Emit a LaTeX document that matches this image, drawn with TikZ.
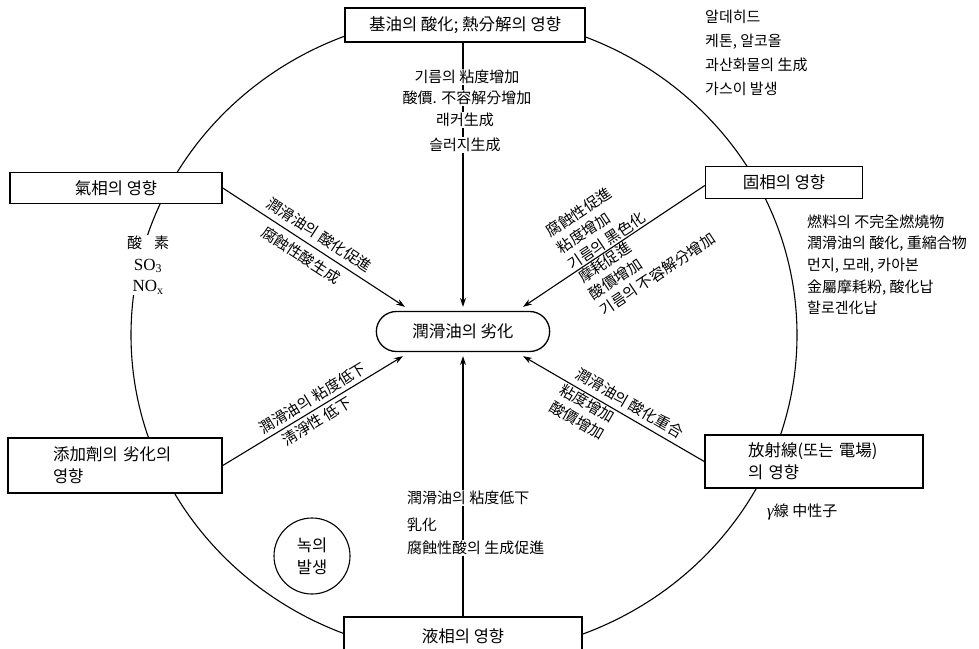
\documentclass[tikz,border=0pt]{standalone}
\usepackage{fontspec}
\setmainfont{Noto Sans CJK KR}
\newfontfamily\serifL{Liberation Serif}
\usetikzlibrary{shapes.misc,arrows.meta,calc}
\newcommand\lblfont{\fontsize{15}{19}\selectfont}
\newcommand\blkfont{\fontsize{15}{19.5}\selectfont}
\newcommand\bxfont{\fontsize{16.5}{22}\selectfont}
\begin{document}
\begin{tikzpicture}[x=1pt,y=-1pt,
  box/.style={draw, line width=1.5pt, fill=white, inner sep=0pt, font=\bxfont},
  lbl/.style={font=\lblfont, inner sep=1pt},
  blk/.style={font=\blkfont, inner sep=1pt, sloped, align=left},
  row/.style={lbl, fill=white},
  arr/.style={line width=1.1pt, -{Stealth[length=9pt,width=6pt]}},
  ring/.style={line width=1.1pt}]
\useasboundingbox (0,0) rectangle (979,648);
\fill[white] (0,0) rectangle (979,648);
% outer ring
\draw[ring] (464,335) ellipse [x radius=333, y radius=320];

% boxes
\node[box, minimum width=240, minimum height=34] (top) at (465,25) {基油의 酸化; 熱分解의 영향};
\node[box, minimum width=212, minimum height=31] (gas) at (116,188) {氣相의 영향};
\node[box, minimum width=157, minimum height=32] (solid) at (784,182.5) {固相의 영향};
\node[box, minimum width=214, minimum height=55, inner xsep=45pt, text width=124pt, align=left] (add) at (115,465.5) {\mbox{添加劑의 劣化의}\\영향};
\node[box, minimum width=218, minimum height=53, inner xsep=43pt, text width=132pt, align=left] (rad) at (814,461.5) {\mbox{放射線(또는 電場)}\\의 영향};
\node[box, minimum width=238, minimum height=38] (liq) at (463,636) {液相의 영향};

% centre
\node[draw, line width=1.3pt, rounded rectangle, minimum width=180, minimum height=40, font=\bxfont, fill=white] (lub) at (463,331.5) {潤滑油의 劣化};

% rust circle
\node[draw, circle, line width=1.1pt, minimum size=76, inner sep=0pt, align=center, font=\bxfont] (rust) at (312,556) {녹의\\발생};

% top arrow and labels
\draw[arr] (top.south -| lub.north) -- ([yshift=4pt]lub.north);
\node[row] (t1) at (467,77) {기름의 粘度增加};
\node[row] (t2) at (467,98) {酸價. 不容解分增加};
\node[row] (t3) at (465,120) {래커生成};
\node[row] (t4) at (465,145) {슬러지生成};

% bottom arrow and labels
\draw[arr] (liq.north -| lub.south) -- ([yshift=-4pt]lub.south);
\node[row, anchor=west] (b1) at (406,498) {潤滑油의 粘度低下};
\node[row, anchor=west] (b2) at (406,525) {乳化};
\node[row, anchor=west] (b3) at (406,548) {腐蝕性酸의 生成促進};

% gas-phase arrow
\draw[arr] (gas.east) --
  node[lbl, sloped, pos=0.49, above=5pt] (g1) {潤滑油의 酸化促進}
  node[lbl, sloped, pos=0.47, below=5pt] (g2) {腐蝕性酸生成}
  ([shift={(-58pt,4pt)}]lub.north);

% solid-phase arrow
\draw[arr] ([yshift=-3pt]solid.west) --
  node[blk, pos=0.726, anchor=south west] (s1) {腐蝕性促進\\粘度增加\\기름의 黑色化}
  node[blk, pos=0.72, anchor=north west] (s2) {摩耗促進\\酸價增加\\기름의 不容解分增加}
  ([shift={(60pt,4pt)}]lub.north);

% additive arrow
\draw[arr] (add.east) --
  node[lbl, sloped, pos=0.53, above=2.5pt] (a1) {潤滑油의 粘度低下}
  node[lbl, sloped, pos=0.49, below=2.5pt] (a2) {淸淨性 低下}
  ([shift={(-60pt,-4pt)}]lub.south);

% radiation arrow
\draw[arr] (rad.west) --
  node[lbl, sloped, pos=0.447, above=4.5pt] (r1) {潤滑油의 酸化重合}
  node[blk, pos=0.772, anchor=north west] (r2) {粘度增加\\酸價增加}
  ([shift={(60pt,-4pt)}]lub.south);

% side texts
\node[lbl, anchor=north west, align=left, font=\fontsize{15}{24}\selectfont] (ald) at (704,8.5) {알데히드\\케톤, 알코올\\과산화물의 生成\\가스이 발생};
\node[lbl, anchor=north west, align=left, font=\fontsize{15}{21.6}\selectfont] (fuel) at (806,213.5) {燃料의 不完全燃燒物\\潤滑油의 酸化, 重縮合物\\먼지, 모래, 카아본\\金屬摩耗粉, 酸化납\\할로겐化납};
\node[lbl, anchor=west] (gam) at (766,512) {{\serifL\itshape\fontsize{17}{19}\selectfont γ}線\ 中性子};
\node[lbl, fill=white, align=center, font=\fontsize{15}{21.5}\selectfont] (oxy) at (148,265)
  {酸\hspace{12pt}素\\{\serifL\fontsize{17}{21.5}\selectfont SO\textsubscript{3}}\\{\serifL\fontsize{17}{21.5}\selectfont NO\textsubscript{x}}};
\end{tikzpicture}
\end{document}
